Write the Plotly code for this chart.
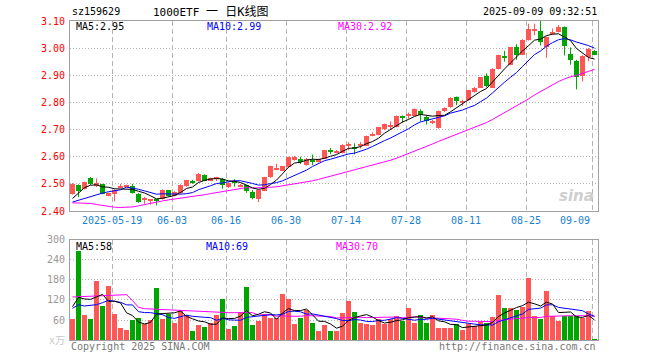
import plotly.graph_objects as go
import pandas as pd

# ---------------- data ----------------
dates = [
    "2025-05-08", "2025-05-09", "2025-05-12", "2025-05-13", "2025-05-14", "2025-05-15", "2025-05-16",
    "2025-05-19", "2025-05-20", "2025-05-21", "2025-05-22", "2025-05-23", "2025-05-26", "2025-05-27",
    "2025-05-28", "2025-05-29", "2025-05-30",
    "2025-06-03", "2025-06-04", "2025-06-05", "2025-06-06", "2025-06-09", "2025-06-10", "2025-06-11",
    "2025-06-12", "2025-06-13", "2025-06-16", "2025-06-17", "2025-06-18", "2025-06-19", "2025-06-20",
    "2025-06-23", "2025-06-24", "2025-06-25", "2025-06-26", "2025-06-27", "2025-06-30",
    "2025-07-01", "2025-07-02", "2025-07-03", "2025-07-04", "2025-07-07", "2025-07-08", "2025-07-09",
    "2025-07-10", "2025-07-11", "2025-07-14", "2025-07-15", "2025-07-16", "2025-07-17", "2025-07-18",
    "2025-07-21", "2025-07-22", "2025-07-23", "2025-07-24", "2025-07-25", "2025-07-28", "2025-07-29",
    "2025-07-30", "2025-07-31",
    "2025-08-01", "2025-08-04", "2025-08-05", "2025-08-06", "2025-08-07", "2025-08-08", "2025-08-11",
    "2025-08-12", "2025-08-13", "2025-08-14", "2025-08-15", "2025-08-18", "2025-08-19", "2025-08-20",
    "2025-08-21", "2025-08-22", "2025-08-25", "2025-08-26", "2025-08-27", "2025-08-28", "2025-08-29",
    "2025-09-01", "2025-09-02", "2025-09-03", "2025-09-04", "2025-09-05", "2025-09-08", "2025-09-09",
]

open_ = [
    2.464, 2.496, 2.481, 2.523, 2.493, 2.498, 2.456, 2.461, 2.488, 2.491,
    2.491, 2.464, 2.443, 2.437, 2.441, 2.444, 2.476, 2.456, 2.466, 2.491,
    2.510, 2.510, 2.532, 2.513, 2.518, 2.519, 2.487, 2.508, 2.492, 2.494,
    2.470, 2.443, 2.475, 2.524, 2.553, 2.549, 2.561, 2.588, 2.591, 2.569,
    2.588, 2.581, 2.593, 2.624, 2.617, 2.614, 2.644, 2.636, 2.640, 2.641,
    2.679, 2.681, 2.701, 2.710, 2.710, 2.750, 2.753, 2.750, 2.767, 2.747,
    2.723, 2.706, 2.767, 2.782, 2.819, 2.798, 2.808, 2.838, 2.855, 2.899,
    2.855, 2.924, 2.970, 2.939, 3.003, 2.976, 3.030, 3.065, 3.065, 3.006,
    3.053, 3.060, 3.077, 2.977, 2.954, 2.897, 2.966, 2.990,
]
high = [
    2.503, 2.498, 2.508, 2.525, 2.520, 2.500, 2.468, 2.480, 2.500, 2.497,
    2.500, 2.466, 2.451, 2.444, 2.443, 2.480, 2.478, 2.473, 2.498, 2.515,
    2.515, 2.540, 2.535, 2.523, 2.526, 2.522, 2.506, 2.517, 2.500, 2.497,
    2.477, 2.479, 2.526, 2.567, 2.574, 2.566, 2.600, 2.603, 2.600, 2.595,
    2.608, 2.593, 2.625, 2.632, 2.625, 2.646, 2.654, 2.649, 2.654, 2.678,
    2.690, 2.710, 2.722, 2.730, 2.752, 2.752, 2.763, 2.778, 2.775, 2.750,
    2.735, 2.770, 2.782, 2.819, 2.822, 2.810, 2.847, 2.857, 2.894, 2.907,
    2.926, 2.976, 2.990, 3.005, 3.015, 3.033, 3.090, 3.090, 3.104, 3.043,
    3.072, 3.085, 3.080, 3.003, 2.957, 2.974, 3.000, 2.993,
]
low = [
    2.460, 2.451, 2.479, 2.496, 2.488, 2.462, 2.454, 2.436, 2.485, 2.488,
    2.464, 2.430, 2.427, 2.424, 2.421, 2.442, 2.454, 2.454, 2.464, 2.489,
    2.500, 2.508, 2.510, 2.510, 2.510, 2.482, 2.485, 2.490, 2.488, 2.467,
    2.443, 2.433, 2.473, 2.522, 2.551, 2.547, 2.559, 2.586, 2.573, 2.567,
    2.569, 2.579, 2.591, 2.609, 2.612, 2.612, 2.624, 2.609, 2.630, 2.640,
    2.675, 2.679, 2.698, 2.698, 2.708, 2.725, 2.740, 2.748, 2.730, 2.718,
    2.720, 2.703, 2.765, 2.780, 2.790, 2.788, 2.806, 2.836, 2.853, 2.855,
    2.853, 2.922, 2.950, 2.937, 2.957, 2.974, 3.028, 3.047, 3.010, 2.964,
    3.050, 3.058, 2.973, 2.939, 2.848, 2.877, 2.951, 2.974,
]
close = [
    2.501, 2.474, 2.506, 2.498, 2.503, 2.464, 2.466, 2.478, 2.493, 2.495,
    2.466, 2.432, 2.446, 2.441, 2.438, 2.479, 2.456, 2.471, 2.496, 2.513,
    2.506, 2.538, 2.512, 2.520, 2.522, 2.497, 2.504, 2.505, 2.497, 2.472,
    2.448, 2.477, 2.524, 2.565, 2.556, 2.564, 2.598, 2.600, 2.581, 2.593,
    2.583, 2.591, 2.623, 2.619, 2.622, 2.644, 2.646, 2.629, 2.645, 2.676,
    2.683, 2.708, 2.720, 2.716, 2.750, 2.745, 2.756, 2.775, 2.753, 2.730,
    2.733, 2.767, 2.780, 2.817, 2.807, 2.802, 2.845, 2.855, 2.892, 2.862,
    2.924, 2.973, 2.966, 3.003, 2.976, 3.030, 3.070, 3.068, 3.023, 3.040,
    3.056, 3.077, 3.008, 2.958, 2.894, 2.971, 2.998, 2.976,
]
volume = [
    63, 267, 75, 63, 178, 102, 162, 78, 36, 30,
    60, 66, 48, 60, 156, 63, 78, 51, 87, 75,
    27, 45, 39, 51, 75, 123, 33, 42, 84, 159,
    45, 57, 78, 66, 66, 138, 123, 48, 66, 90,
    51, 27, 45, 27, 27, 81, 117, 84, 51, 48,
    45, 63, 48, 63, 72, 57, 96, 51, 75, 51,
    75, 36, 36, 36, 48, 30, 48, 42, 54, 51,
    69, 135, 96, 96, 90, 99, 186, 72, 63, 147,
    72, 57, 72, 72, 72, 66, 87, 3,
]

# moving-average values for the first bars (history before the window)
ma5_head = [2.446, 2.466, 2.486, 2.495]
ma10_head = [2.433, 2.440, 2.447, 2.454, 2.460, 2.466, 2.471, 2.475, 2.478]
ma30_head = [2.430, 2.430, 2.429, 2.428, 2.424, 2.420, 2.416, 2.414, 2.413, 2.413,
             2.415, 2.419, 2.424, 2.429, 2.433, 2.437, 2.441, 2.444, 2.447, 2.450,
             2.452, 2.456, 2.460, 2.464, 2.468, 2.472, 2.476, 2.479, 2.482]
vma5_head = [100, 128, 123, 122]
vma10_head = [95, 106, 102, 103, 106, 112, 119, 116, 113]
vma30_head = [129, 130, 131, 132, 133, 134, 135, 136, 136, 136,
              118, 98, 94, 93, 92, 91, 90, 89, 88, 87,
              86, 85, 84, 84, 83, 83, 82, 82, 82]

tick_dates = ["2025-05-19", "2025-06-03", "2025-06-16", "2025-06-30", "2025-07-14",
              "2025-07-28", "2025-08-11", "2025-08-25", "2025-09-09"]
tick_labels = ["2025-05-19", "06-03", "06-16", "06-30", "07-14", "07-28", "08-11", "08-25", "09-09"]
price_ticks = [2.40, 2.50, 2.60, 2.70, 2.80, 2.90, 3.00, 3.10]
vol_ticks = [0, 60, 120, 180, 240, 300]
vol_tick_labels = ["<span style='color:#c8c8c8'>x万</span>", "60", "120", "180", "240", "300"]

header_code = "sz159629"
header_title = "1000ETF <span style='font-size:12px'>一 日K线图</span>"
header_time = "2025-09-09 09:32:51"
price_ma_text = ["MA5:2.95", "MA10:2.99", "MA30:2.92"]
vol_ma_text = ["MA5:58", "MA10:69", "MA30:70"]

# ---------------- derived ----------------
n = len(dates)
idx = list(range(n))


def rolling(values, w, head):
    s = pd.Series(values, dtype=float).rolling(w).mean().tolist()
    return list(head) + s[len(head):]


ma5 = rolling(close, 5, ma5_head)
ma10 = rolling(close, 10, ma10_head)
ma30 = rolling(close, 30, ma30_head)
vma5 = rolling(volume, 5, vma5_head)
vma10 = rolling(volume, 10, vma10_head)
vma30 = rolling(volume, 30, vma30_head)

RED = "#ff5656"
GREEN = "#00a600"
up = [c >= o for o, c in zip(open_, close)]
colors = [RED if u else GREEN for u in up]

MONO = "DejaVu Sans Mono, Noto Sans CJK SC, monospace"

fig = go.Figure()

# candle wicks
for flag, col in ((True, RED), (False, GREEN)):
    wx, wy = [], []
    for i in idx:
        if up[i] == flag:
            wx += [i, i, None]
            wy += [low[i], high[i], None]
    fig.add_trace(go.Scatter(x=wx, y=wy, mode="lines", line=dict(color=col, width=1),
                             hoverinfo="skip", xaxis="x", yaxis="y"))

# candle bodies
body_h = [max(abs(c - o), 0.004) for o, c in zip(open_, close)]
body_b = [min(o, c) if abs(c - o) >= 0.004 else (o + c) / 2 - 0.002 for o, c in zip(open_, close)]
fig.add_trace(go.Bar(x=idx, y=body_h, base=body_b, width=0.8, marker=dict(color=colors, line=dict(width=0)),
                     xaxis="x", yaxis="y"))

# price MAs
for vals, col in ((ma30, "#ff00ff"), (ma10, "#0000ff"), (ma5, "#000000")):
    fig.add_trace(go.Scatter(x=idx, y=vals, mode="lines", line=dict(color=col, width=1),
                             xaxis="x", yaxis="y"))

# volume bars
fig.add_trace(go.Bar(x=idx, y=volume, width=0.8, marker=dict(color=colors, line=dict(width=0)),
                     xaxis="x2", yaxis="y2"))
for vals, col in ((vma30, "#ff00ff"), (vma10, "#0000ff"), (vma5, "#000000")):
    fig.add_trace(go.Scatter(x=idx, y=vals, mode="lines", line=dict(color=col, width=1),
                             xaxis="x2", yaxis="y2"))

grid_x = [dates.index(d) - 0.35 for d in tick_dates]
xr = [-0.42, n - 0.42]

axis_common = dict(showline=True, mirror=True, linecolor="#a0a0a0", linewidth=1, zeroline=False)
fig.update_layout(
    width=660, height=360,
    margin=dict(l=70, r=62, t=21, b=20),
    paper_bgcolor="white", plot_bgcolor="white",
    showlegend=False, bargap=0, barmode="overlay",
    xaxis=dict(domain=[0, 1], range=xr, anchor="y", tickvals=grid_x, showticklabels=False,
               showgrid=True, gridcolor="#b4b4b4", griddash="5px,3px", ticks="", **axis_common),
    yaxis=dict(domain=[0.4044, 1], range=[2.40, 3.10], tickvals=price_ticks,
               ticktext=[f"{v:.2f}" for v in price_ticks],
               tickfont=dict(family=MONO, size=10, color="#ff0000"),
               showgrid=True, gridcolor="#b4b4b4", griddash="1px,2px",
               ticks="outside", ticklen=2, tickcolor="rgba(0,0,0,0)", **axis_common),
    xaxis2=dict(domain=[0, 1], range=xr, anchor="y2", tickvals=grid_x, showticklabels=False,
                showgrid=True, gridcolor="#b4b4b4", griddash="5px,3px", ticks="", **axis_common),
    yaxis2=dict(domain=[0, 0.3135], range=[0, 300], tickvals=vol_ticks, ticktext=vol_tick_labels,
                tickfont=dict(family=MONO, size=10, color="#999999"),
                showgrid=True, gridcolor="#b4b4b4", griddash="1px,2px",
                ticks="outside", ticklen=2, tickcolor="rgba(0,0,0,0)", **axis_common),
)


def P(X, Y):
    return (X - 70) / 528.0, (340 - Y) / 319.0


ann = []


def text(X, Y, s, color="#000000", anchor="left", size=10, family=MONO, **kw):
    px, py = P(X, Y)
    ann.append(dict(x=px, y=py, xref="paper", yref="paper", text=s, showarrow=False,
                    xanchor=anchor, yanchor="middle", font=dict(family=family, size=size, color=color), **kw))


text(70, 12, header_code)
text(151, 12, header_title, size=11)
text(599, 12, header_time, anchor="right")
text(74, 27, price_ma_text[0])
text(205, 27, price_ma_text[1], color="#0000ff")
text(336, 27, price_ma_text[2], color="#ff00ff")
text(74, 246, vol_ma_text[0])
text(204, 246, vol_ma_text[1], color="#0000ff")
text(334, 246, vol_ma_text[2], color="#ff00ff")
text(69, 346, "Copyright 2025 SINA.COM", color="#777777")
text(598, 346, "http://finance.sina.com.cn", color="#777777", anchor="right")

# date labels under the price panel
for d, lab in zip(tick_dates, tick_labels):
    i = dates.index(d) - 0.35
    last = d == tick_dates[-1]
    ann.append(dict(x=i, y=P(0, 221)[1], xref="x", yref="paper", text=lab, showarrow=False,
                    xanchor="right" if last else "center", yanchor="middle",
                    font=dict(family=MONO, size=10, color="#1a82d2")))

# sina watermark
text(596, 196, "sina", color="#cfcfcf", anchor="right", size=15, family="DejaVu Sans")
ann[-1]["font"].update(style="italic", weight="bold")

fig.update_layout(annotations=ann)
fig.write_html("out.html", config={"displayModeBar": False},
               post_script="document.body.style.margin='0';")
